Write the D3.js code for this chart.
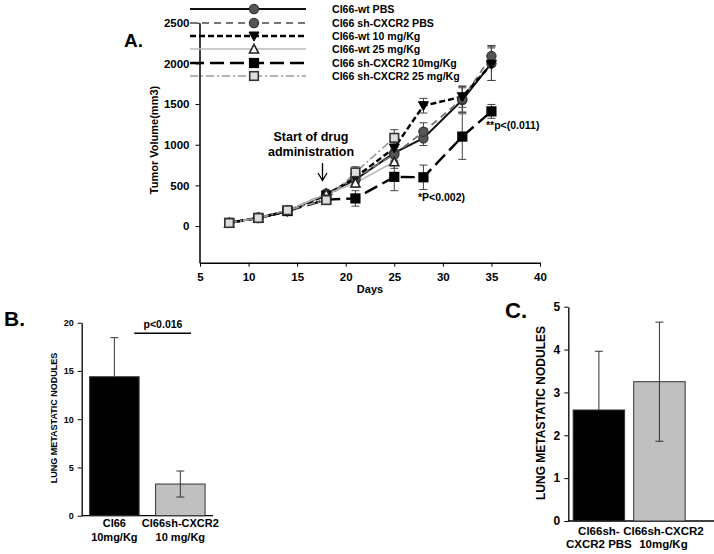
<!DOCTYPE html>
<html><head><meta charset="utf-8">
<script src="https://cdn.jsdelivr.net/npm/d3@7"></script>
<style>body{margin:0;background:#fff}svg text{font-family:"Liberation Sans",Arial,sans-serif;font-weight:bold}</style>
</head><body><svg id="c" width="714" height="554"></svg>
<script>
// ---------- Panel A data ----------
const days = [8, 11, 14, 18, 21, 25, 28, 32, 35];
const daysShort = [8, 11, 14, 18, 21, 25];
const seriesNames = ["Cl66-wt PBS", "Cl66 sh-CXCR2 PBS", "Cl66-wt 10 mg/Kg", "Cl66-wt 25 mg/Kg", "Cl66 sh-CXCR2 10mg/Kg", "Cl66 sh-CXCR2 25 mg/Kg"];
const wtPBS   = [40, 100, 185, 390, 570, 900, 1080, 1550, 2000];
const wtPBSerr= [10, 15, 20, 30, 50, 90, 90, 150, 210];
const shPBS   = [40, 105, 190, 400, 590, 880, 1160, 1560, 2090];
const shPBSerr= [10, 15, 20, 30, 60, 90, 110, 160, 130];
const wt10    = [40, 100, 180, 380, 600, 960, 1480, 1590, 1990];
const wt10err = [10, 15, 20, 30, 60, 100, 90, 130, 200];
const wt25    = [40, 100, 190, 395, 530, 790];
const wt25err = [10, 15, 20, 30, 50, 80];
const sh10    = [40, 100, 185, 325, 340, 605, 600, 1100, 1410];
const sh10err = [10, 15, 20, 30, 95, 170, 150, 280, 85];
const sh25    = [38, 100, 195, 320, 660, 1085];
const sh25err = [10, 15, 20, 30, 70, 100];
const yTicksA = [0, 500, 1000, 1500, 2000, 2500];
const xTicksA = [5, 10, 15, 20, 25, 30, 35, 40];

// ---------- Panel B data ----------
const catsB = [["Cl66", "10mg/Kg"], ["Cl66sh-CXCR2", "10 mg/Kg"]];
const valsB = [14.4, 3.28];
const errB  = [4.05, 1.35];
const yTicksB = [0, 5, 10, 15, 20];

// ---------- Panel C data ----------
const catsC = [["Cl66sh-", "CXCR2 PBS"], ["Cl66sh-CXCR2", "10mg/Kg"]];
const valsC = [2.59, 3.25];
const errC  = [1.37, 1.39];
const yTicksC = [0, 1, 2, 3, 4, 5];

const svg = d3.select("#c");
const fmt = d3.format("d");

// ================= Panel A =================
const xA = d3.scaleLinear().domain([5, 40]).range([200, 540]);
const yA = d3.scaleLinear().domain([-450, 2500]).range([262.7, 22.7]);

const styles = [
  {vals: wtPBS, err: wtPBSerr, x: days, stroke: "#111", w: 2, dash: null, marker: "circle", fill: "#555", mstroke: "#333"},
  {vals: shPBS, err: shPBSerr, x: days, stroke: "#777", w: 1.8, dash: "7,5", marker: "circle", fill: "#555", mstroke: "#333"},
  {vals: wt10, err: wt10err, x: days, stroke: "#000", w: 2.4, dash: "6,3", marker: "tridown", fill: "#000", mstroke: "#000"},
  {vals: wt25, err: wt25err, x: daysShort, stroke: "#bbb", w: 1.6, dash: null, marker: "triup", fill: "#fff", mstroke: "#222"},
  {vals: sh10, err: sh10err, x: days, stroke: "#000", w: 2.4, dash: "14,6", marker: "square", fill: "#000", mstroke: "#000"},
  {vals: sh25, err: sh25err, x: daysShort, stroke: "#999", w: 1.6, dash: "8,3,2,3", marker: "square", fill: "#ddd", mstroke: "#333"}
];

const gA = svg.append("g");
const yAxisA = d3.axisLeft(yA).tickValues(yTicksA).tickFormat(fmt).tickSize(4).tickPadding(6).tickSizeOuter(0);
const ya = gA.append("g").attr("transform", "translate(199.5,0)").call(yAxisA);
ya.select(".domain").attr("stroke", "#000").attr("stroke-width", 1.5);
ya.selectAll("text").attr("font-size", 11.5).attr("font-family", "Liberation Sans, Arial").attr("font-weight", "bold");
const xAxisA = d3.axisBottom(xA).tickValues(xTicksA).tickFormat(fmt).tickSize(4).tickPadding(6).tickSizeOuter(0);
const xa = gA.append("g").attr("transform", "translate(0,262.7)").call(xAxisA);
xa.select(".domain").attr("stroke", "#000").attr("stroke-width", 1.5);
xa.selectAll("text").attr("font-size", 11.5).attr("font-family", "Liberation Sans, Arial").attr("font-weight", "bold");

gA.append("text").attr("x", 370).attr("y", 293).attr("text-anchor", "middle").attr("font-size", 11).text("Days");
gA.append("text").attr("transform", "translate(158,140) rotate(-90)").attr("text-anchor", "middle").attr("font-size", 11).text("Tumor Volume(mm3)");
gA.append("text").attr("x", 124).attr("y", 47).attr("font-size", 19).text("A.");

function drawMarker(g, type, cx, cy, fill, stroke) {
  if (type === "circle") g.append("circle").attr("cx", cx).attr("cy", cy).attr("r", 4.6).attr("fill", fill).attr("stroke", stroke).attr("stroke-width", 1.2);
  else if (type === "square") g.append("rect").attr("x", cx - 4.3).attr("y", cy - 4.3).attr("width", 8.6).attr("height", 8.6).attr("fill", fill).attr("stroke", stroke).attr("stroke-width", 1.6);
  else if (type === "tridown") g.append("path").attr("d", `M${cx-5},${cy-4}L${cx+5},${cy-4}L${cx},${cy+5}Z`).attr("fill", fill).attr("stroke", stroke);
  else if (type === "triup") g.append("path").attr("d", `M${cx-4.5},${cy+4}L${cx+4.5},${cy+4}L${cx},${cy-4.5}Z`).attr("fill", fill).attr("stroke", stroke).attr("stroke-width", 1.6);
}

styles.forEach(s => {
  s.vals.forEach((v, i) => {
    const cx = xA(s.x[i]);
    const eg = gA.append("g").attr("stroke", "#444").attr("stroke-width", 1);
    eg.append("line").attr("x1", cx).attr("x2", cx).attr("y1", yA(v - s.err[i])).attr("y2", yA(v + s.err[i]));
    eg.append("line").attr("x1", cx - 4).attr("x2", cx + 4).attr("y1", yA(v - s.err[i])).attr("y2", yA(v - s.err[i]));
    eg.append("line").attr("x1", cx - 4).attr("x2", cx + 4).attr("y1", yA(v + s.err[i])).attr("y2", yA(v + s.err[i]));
  });
});
const lineGen = d3.line().x(d => xA(d[0])).y(d => yA(d[1]));
styles.forEach(s => {
  gA.append("path").datum(s.vals.map((v, i) => [s.x[i], v]))
    .attr("d", lineGen).attr("fill", "none").attr("stroke", s.stroke).attr("stroke-width", s.w)
    .attr("stroke-dasharray", s.dash);
});
styles.forEach(s => {
  s.vals.forEach((v, i) => drawMarker(gA, s.marker, xA(s.x[i]), yA(v), s.fill, s.mstroke));
});

const legY = [9, 23, 36, 49, 63, 76];
styles.forEach((s, i) => {
  gA.append("line").attr("x1", 190).attr("x2", 306).attr("y1", legY[i]).attr("y2", legY[i])
    .attr("stroke", s.stroke).attr("stroke-width", s.w).attr("stroke-dasharray", s.dash);
  drawMarker(gA, s.marker, 254, legY[i], s.fill, s.mstroke);
  gA.append("text").attr("x", 332).attr("y", legY[i] + 4).attr("font-size", 10.6).text(seriesNames[i]);
});

gA.append("text").attr("x", 311).attr("y", 141).attr("text-anchor", "middle").attr("font-size", 12.5).text("Start of drug");
gA.append("text").attr("x", 311).attr("y", 156).attr("text-anchor", "middle").attr("font-size", 12.5).text("administration");
gA.append("line").attr("x1", 322.5).attr("x2", 322.5).attr("y1", 163).attr("y2", 180).attr("stroke", "#000").attr("stroke-width", 1.3);
gA.append("path").attr("d", "M318,173L322.5,180.5L327,173").attr("fill", "none").attr("stroke", "#000").attr("stroke-width", 1.3);
gA.append("text").attr("x", 418).attr("y", 201).attr("font-size", 10.5).text("*P<0.002)");
gA.append("text").attr("x", 486).attr("y", 129).attr("font-size", 10.5).text("**p<(0.011)");

// ================= Panel B =================
const gB = svg.append("g");
const yB = d3.scaleLinear().domain([0, 20]).range([515.7, 322.7]);
const xB = d3.scaleBand().domain([0, 1]).range([81.7, 213]).paddingInner(0.25).paddingOuter(0.12);
const yb = gB.append("g").attr("transform", "translate(81.7,0)").call(d3.axisLeft(yB).tickValues(yTicksB).tickFormat(fmt).tickSize(4).tickPadding(4).tickSizeOuter(0));
yb.select(".domain").attr("stroke-width", 1.3);
yb.selectAll("text").attr("font-size", 9).attr("font-family", "Liberation Sans, Arial").attr("font-weight", "bold");
gB.append("line").attr("x1", 81.7).attr("x2", 213).attr("y1", 515.7).attr("y2", 515.7).attr("stroke", "#000").attr("stroke-width", 1.3);
valsB.forEach((v, i) => {
  const x0 = xB(i), bw = xB.bandwidth();
  gB.append("rect").attr("x", x0).attr("y", yB(v)).attr("width", bw).attr("height", yB(0) - yB(v))
    .attr("fill", i === 0 ? "#000" : "#c0c0c0").attr("stroke", "#333").attr("stroke-width", 1);
  const cx = x0 + bw / 2;
  const lo = i === 0 ? v : v - errB[i];
  gB.append("line").attr("x1", cx).attr("x2", cx).attr("y1", yB(lo)).attr("y2", yB(v + errB[i])).attr("stroke", "#333");
  gB.append("line").attr("x1", cx - 4).attr("x2", cx + 4).attr("y1", yB(v + errB[i])).attr("y2", yB(v + errB[i])).attr("stroke", "#333");
  if (i !== 0) gB.append("line").attr("x1", cx - 4).attr("x2", cx + 4).attr("y1", yB(lo)).attr("y2", yB(lo)).attr("stroke", "#333");
  catsB[i].forEach((t, j) => gB.append("text").attr("x", cx).attr("y", 527 + j * 14).attr("text-anchor", "middle").attr("font-size", 11).text(t));
});
gB.append("line").attr("x1", 134.3).attr("x2", 191).attr("y1", 333.3).attr("y2", 333.3).attr("stroke", "#000").attr("stroke-width", 1.5);
gB.append("text").attr("x", 163).attr("y", 328).attr("text-anchor", "middle").attr("font-size", 10.5).text("p<0.016");
gB.append("text").attr("transform", "translate(57,418) rotate(-90)").attr("text-anchor", "middle").attr("font-size", 9).text("LUNG METASTATIC NODULES");
gB.append("text").attr("x", 4).attr("y", 326).attr("font-size", 21).text("B.");

// ================= Panel C =================
const gC = svg.append("g");
const yC = d3.scaleLinear().domain([0, 5]).range([521, 306.7]);
const xC = d3.scaleBand().domain([0, 1]).range([568.3, 690]).paddingInner(0.15).paddingOuter(0.08);
const yc = gC.append("g").attr("transform", "translate(568.3,0)").call(d3.axisLeft(yC).tickValues(yTicksC).tickFormat(fmt).tickSize(4).tickPadding(4).tickSizeOuter(0));
yc.select(".domain").attr("stroke-width", 1.3);
yc.selectAll("text").attr("font-size", 12).attr("font-family", "Liberation Sans, Arial").attr("font-weight", "bold");
gC.append("line").attr("x1", 568.3).attr("x2", 714).attr("y1", 521).attr("y2", 521).attr("stroke", "#000").attr("stroke-width", 1.3);
valsC.forEach((v, i) => {
  const x0 = xC(i), bw = xC.bandwidth();
  gC.append("rect").attr("x", x0).attr("y", yC(v)).attr("width", bw).attr("height", yC(0) - yC(v))
    .attr("fill", i === 0 ? "#000" : "#c0c0c0").attr("stroke", "#333").attr("stroke-width", 1);
  const cx = x0 + bw / 2;
  const lo = i === 0 ? v : v - errC[i];
  gC.append("line").attr("x1", cx).attr("x2", cx).attr("y1", yC(lo)).attr("y2", yC(v + errC[i])).attr("stroke", "#333");
  gC.append("line").attr("x1", cx - 4).attr("x2", cx + 4).attr("y1", yC(v + errC[i])).attr("y2", yC(v + errC[i])).attr("stroke", "#333");
  if (i !== 0) gC.append("line").attr("x1", cx - 4).attr("x2", cx + 4).attr("y1", yC(lo)).attr("y2", yC(lo)).attr("stroke", "#333");
  catsC[i].forEach((t, j) => gC.append("text").attr("x", cx + (i === 1 ? 4 : 0)).attr("y", 535 + j * 13).attr("text-anchor", "middle").attr("font-size", 11.5).text(t));
});
gC.append("text").attr("transform", "translate(545,413) rotate(-90)").attr("text-anchor", "middle").attr("font-size", 12).text("LUNG METASTATIC NODULES");
gC.append("text").attr("x", 505).attr("y", 318).attr("font-size", 22).text("C.");
</script></body></html>
